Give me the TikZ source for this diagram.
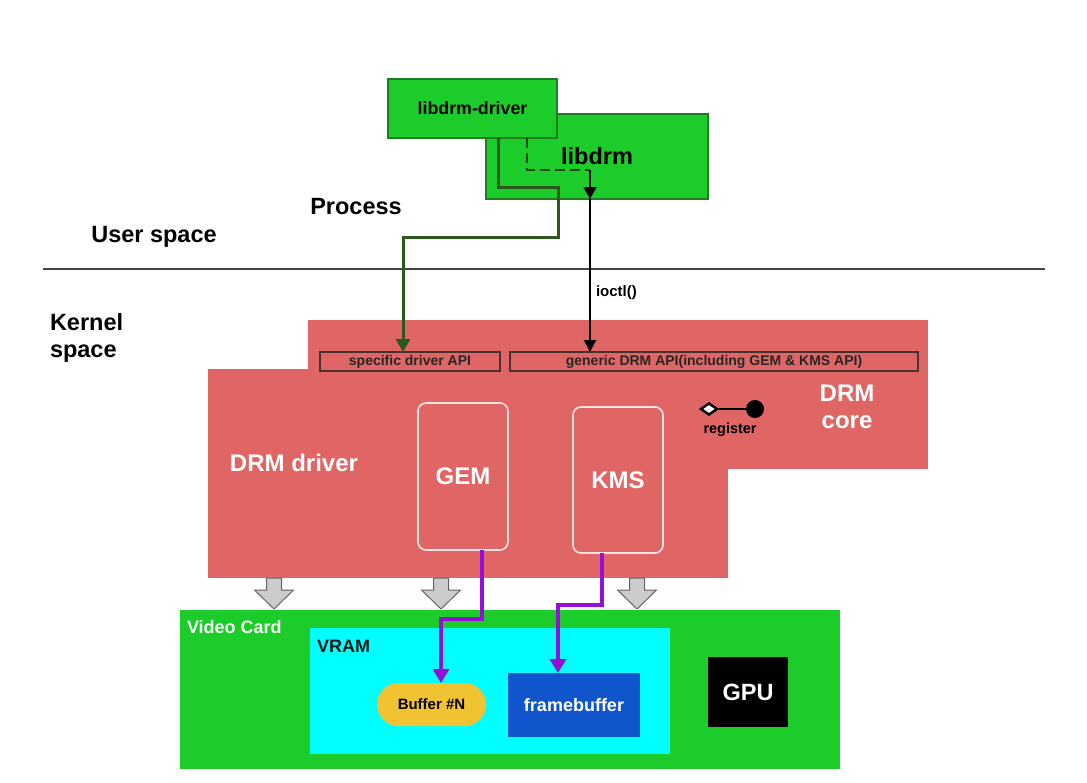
\documentclass[tikz,border=0pt]{standalone}
\usepackage{fontspec}
\setmainfont{Liberation Sans}
\usetikzlibrary{arrows.meta,shapes.geometric}
\definecolor{lgreen}{RGB}{28,204,42}
\definecolor{bgreen}{RGB}{30,125,35}
\definecolor{gline}{RGB}{45,88,28}
\definecolor{drmred}{RGB}{224,102,102}
\definecolor{apibrd}{RGB}{75,50,50}
\definecolor{pinkw}{RGB}{250,228,228}
\definecolor{vcyan}{RGB}{0,255,255}
\definecolor{byellow}{RGB}{241,194,50}
\definecolor{fblue}{RGB}{17,85,204}
\definecolor{pline}{RGB}{150,15,215}
\definecolor{sepgray}{RGB}{68,68,68}
\definecolor{arrgray}{RGB}{204,204,204}
\definecolor{arrbrd}{RGB}{100,100,100}
\newcommand{\fs}[1]{\bfseries\fontsize{#1}{#1}\selectfont}
\begin{document}
\begin{tikzpicture}[x=1pt,y=-1pt,
  rbox/.style={rectangle,inner sep=0pt,outer sep=0pt},
  lbl/.style={inner sep=0pt,outer sep=0pt},
  apibox/.style={rbox,draw=apibrd,line width=2.2pt,minimum height=19pt,font=\fs{14},text=black!85},
  mod/.style={rbox,draw=pinkw,line width=1.6pt,rounded corners=8pt,fill=drmred,minimum width=90pt,font=\fs{24},text=white},
  garrow/.style={fill=arrgray,draw=arrbrd,line width=1pt},
  gconn/.style={draw=gline,line width=3pt},
  pconn/.style={draw=pline,line width=3.6pt,-{Triangle[length=14pt,width=16pt]}},
]
\useasboundingbox[fill=white] (0,0) rectangle (1087,782);

% user space
\node[rbox,fill=lgreen,draw=bgreen,line width=1.2pt,minimum width=222pt,minimum height=85pt,font=\fs{23.5}] (lib) at (597,156.5) {libdrm};
\node[rbox,fill=lgreen,draw=bgreen,line width=1.2pt,minimum width=169pt,minimum height=59pt,font=\fs{17.8}] (drv) at (472.5,108.5) {libdrm-driver};
\node[lbl,font=\fs{23.5}] (proc) at (356,207) {Process};
\node[lbl,font=\fs{23.5}] (us) at (154,237) {User space};
\coordinate (sepL) at (43,269);
\coordinate (sepR) at (1045,269);
\draw[sepgray,line width=2pt] (sepL) -- (sepR);
\node[lbl,align=left,anchor=west,font=\bfseries\fontsize{23.5}{27}\selectfont] (ks) at (50,338) {Kernel\\space};

% kernel
\node[rbox,fill=drmred,minimum width=620pt,minimum height=149pt] (core) at (618,394.5) {};
\node[rbox,fill=drmred,minimum width=520pt,minimum height=209pt] (drvk) at (468,473.5) {};
\node[apibox,minimum width=180pt] (spec) at (410,361.5) {specific driver API};
\node[apibox,minimum width=408pt] (gen) at (714,361.5) {generic DRM API(including GEM \& KMS API)};
\node[lbl,align=center,text=white,font=\bfseries\fontsize{24}{27}\selectfont] (corelbl) at (847,406.5) {DRM\\core};
\node[lbl,text=white,font=\fs{24}] (drvlbl) at (294,463) {DRM driver};
\node[mod,minimum height=147pt] (gem) at (463,476.5) {GEM};
\node[mod,minimum height=146pt] (kms) at (618,480) {KMS};

% register
\node[circle,fill=black,inner sep=0pt,minimum size=18pt] (regB) at (755,409) {};
\node[diamond,draw=black,fill=white,line width=2.4pt,inner sep=0pt,minimum width=17pt,minimum height=12pt] (regA) at (709,409) {};
\draw[black,line width=2.4pt] (regA) -- (regB);
\node[lbl,font=\fs{14.4}] (reglbl) at (730,430) {register};

% connectors from user space
\draw[gconn,-{Triangle[length=13pt,width=14pt]}] ([xshift=25.5pt]drv.south) |- ++(60,49) -- ++(0,50) -| ([xshift=-7pt]spec.north);
\draw[gline!80!black,line width=2.6pt,dash pattern=on 10pt off 5pt] ([xshift=54.5pt]drv.south) |- ++(63,32) coordinate (dc);
\draw[black,line width=2pt,-{Triangle[length=12pt,width=13pt]}] (dc) -- ([xshift=-7pt]lib.south);
\draw[black,line width=2pt,-{Triangle[length=12pt,width=12pt]}] ([xshift=-7pt]lib.south) -- ([xshift=-124pt]gen.north);
\node[lbl,font=\fs{15},anchor=west] (ioctl) at (596,293) {ioctl()};

% gray arrows
\foreach \c in {274,441,637}{
  \draw[garrow] (\c-7.5,578) -- (\c+7.5,578) -- (\c+7.5,590) -- (\c+19.5,590) -- (\c,609) -- (\c-19.5,590) -- (\c-7.5,590) -- cycle;
}

% video card
\node[rbox,fill=lgreen,minimum width=660pt,minimum height=159pt] (vc) at (510,689.5) {};
\node[lbl,anchor=west,text=white!95!green,font=\fs{18}] (vclbl) at (187,627) {Video Card};
\node[rbox,fill=vcyan,minimum width=360pt,minimum height=126pt] (vram) at (490,691) {};
\node[lbl,anchor=west,text=black!90,font=\fs{18}] (vramlbl) at (317,646) {VRAM};
\node[rbox,fill=byellow,rounded corners=21.5pt,minimum width=109pt,minimum height=43pt,font=\fs{15}] (buf) at (431.5,704.5) {Buffer \#N};
\node[rbox,fill=fblue,minimum width=132pt,minimum height=64pt,text=white,font=\fs{18}] (fb) at (574,705) {framebuffer};
\node[rbox,fill=black,minimum width=80pt,minimum height=70pt,text=white,font=\fs{23.5}] (gpu) at (748,692) {GPU};

% purple connectors
\draw[pconn] ([xshift=19pt]gem.south) -- ++(0,69) -| ([xshift=9.5pt]buf.north);
\draw[pconn] ([xshift=-16pt]kms.south) -- ++(0,52) -| ([xshift=-16pt]fb.north);
\end{tikzpicture}
\end{document}
